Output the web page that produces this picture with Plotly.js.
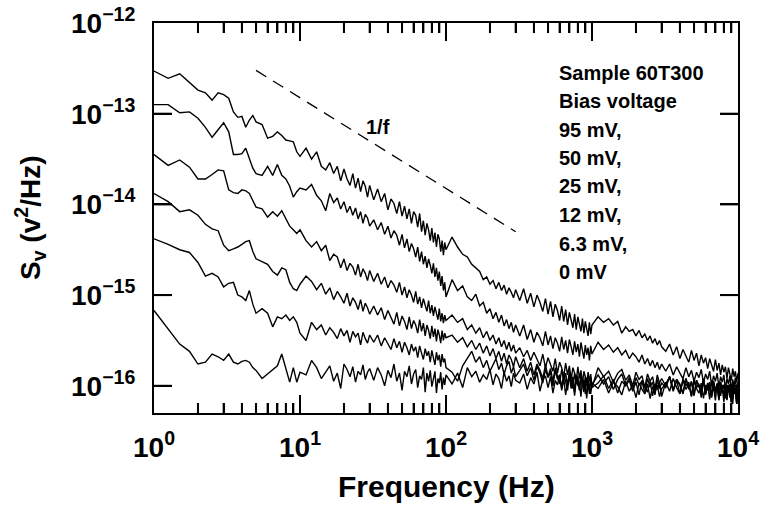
<!DOCTYPE html>
<html><head><meta charset="utf-8">
<script src="https://cdn.plot.ly/plotly-3.0.1.min.js"></script>
<style>html,body{margin:0;padding:0;background:#fff}#chart{width:762px;height:509px}</style>
</head><body><div id="chart"></div>
<script>
// Frequency bins (Hz), shared by all six spectra
const freqHz = [1,1.25,1.5,1.75,2,2.25,2.5,2.75,3,3.25,3.5,3.75,4,4.25,4.5,4.75,5,5.5,6,6.5,7,7.5,8,8.5,9,9.5,
10,11,12,13,14,15,16,17,18,19,20,21,22,23,24,25,26,27,28,29,30,
32,34,36,38,40,42,44,46,48,50,52,54,56,58,60,62,64,66,68,70,72,74,76,78,80,82,84,86,88,90,92,94,96,98,100,
110,120,130,140,150,160,170,180,190,200,210,220,230,240,250,260,270,280,290,300,
320,340,360,380,400,420,440,460,480,500,520,540,560,580,600,620,640,660,680,700,720,740,760,780,800,820,840,860,880,900,920,940,960,980,1000,
1100,1200,1300,1400,1500,1600,1700,1800,1900,2000,2100,2200,2300,2400,2500,2600,2700,2800,2900,3000,
3200,3400,3600,3800,4000,4200,4400,4600,4800,5000,5200,5400,5600,5800,6000,6200,6400,6600,6800,7000,7200,7400,7600,7800,8000,8200,8400,8600,8800,9000,9200,9400,9600,9800,10000];

// log10 of S_V (V^2/Hz)
const log95mV = [-12.53,-12.61,-12.56,-12.66,-12.74,-12.77,-12.85,-12.77,-12.79,-12.83,-12.98,-13.04,-13.03,-13.15,-13.07,-13.02,-13.09,-13.12,-13.27,-13.25,-13.20,-13.24,-13.29,-13.30,-13.31,-13.42,
-13.47,-13.38,-13.50,-13.42,-13.58,-13.62,-13.54,-13.66,-13.58,-13.74,-13.61,-13.72,-13.79,-13.66,-13.82,-13.71,-13.86,-13.74,-13.80,-13.92,-13.79,
-13.95,-13.83,-13.97,-13.88,-14.06,-13.94,-13.99,-14.10,-13.97,-14.13,-14.02,-14.16,-14.05,-14.21,-14.08,-14.12,-14.25,-14.10,-14.30,-14.18,-14.34,-14.21,-14.28,-14.40,-14.26,-14.42,-14.31,-14.47,-14.33,-14.38,-14.52,-14.40,-14.56,-14.42,-14.50,
-14.36,-14.47,-14.55,-14.58,-14.66,-14.70,-14.74,-14.83,-14.80,-14.88,-14.84,-14.93,-14.86,-14.95,-14.89,-14.99,-14.92,-14.97,-15.03,-14.94,
-15.06,-14.93,-15.09,-14.98,-15.13,-15.00,-15.08,-15.18,-15.04,-15.21,-15.07,-15.24,-15.10,-15.17,-15.28,-15.12,-15.29,-15.16,-15.33,-15.19,-15.27,-15.36,-15.21,-15.38,-15.24,-15.34,-15.40,-15.26,-15.42,-15.29,-15.37,-15.45,-15.30,-15.43,-15.33,
-15.24,-15.30,-15.26,-15.33,-15.29,-15.42,-15.35,-15.40,-15.38,-15.45,-15.39,-15.47,-15.43,-15.50,-15.45,-15.53,-15.48,-15.55,-15.50,-15.57,
-15.62,-15.54,-15.66,-15.57,-15.70,-15.60,-15.68,-15.74,-15.61,-15.72,-15.64,-15.78,-15.66,-15.75,-15.69,-15.81,-15.70,-15.77,-15.84,-15.71,-15.83,-15.75,-15.88,-15.77,-15.85,-15.79,-15.92,-15.80,-15.87,-15.94,-15.81,-15.90,-15.84,-15.96,-15.86];

const log50mV = [-12.90,-12.90,-12.99,-12.98,-13.05,-13.15,-13.26,-13.17,-13.10,-13.20,-13.45,-13.45,-13.44,-13.38,-13.50,-13.60,-13.66,-13.68,-13.58,-13.68,-13.56,-13.68,-13.72,-13.80,-13.92,-13.86,
-13.82,-13.84,-13.78,-13.90,-13.96,-14.07,-13.88,-13.98,-13.93,-14.05,-13.97,-14.09,-14.02,-14.12,-14.04,-14.16,-14.08,-14.21,-14.11,-14.15,-14.24,
-14.17,-14.28,-14.20,-14.33,-14.24,-14.37,-14.29,-14.34,-14.45,-14.33,-14.48,-14.38,-14.52,-14.43,-14.49,-14.58,-14.47,-14.63,-14.52,-14.66,-14.57,-14.70,-14.60,-14.67,-14.76,-14.65,-14.80,-14.70,-14.84,-14.74,-14.90,-14.79,-14.95,-14.86,-15.02,
-14.83,-14.95,-14.90,-15.02,-15.06,-14.99,-15.12,-15.08,-15.20,-15.15,-15.26,-15.19,-15.30,-15.22,-15.34,-15.27,-15.37,-15.30,-15.41,-15.33,
-15.45,-15.33,-15.49,-15.38,-15.52,-15.41,-15.47,-15.56,-15.40,-15.55,-15.45,-15.59,-15.47,-15.53,-15.62,-15.46,-15.60,-15.50,-15.64,-15.49,-15.57,-15.66,-15.51,-15.63,-15.54,-15.68,-15.52,-15.61,-15.70,-15.55,-15.66,-15.58,-15.72,-15.56,-15.65,
-15.52,-15.60,-15.55,-15.63,-15.58,-15.66,-15.61,-15.70,-15.64,-15.68,-15.74,-15.66,-15.76,-15.70,-15.78,-15.72,-15.80,-15.74,-15.82,-15.76,
-15.84,-15.76,-15.88,-15.79,-15.86,-15.92,-15.80,-15.90,-15.83,-15.95,-15.85,-15.91,-15.82,-15.97,-15.87,-15.93,-15.84,-16.00,-15.89,-15.95,-15.86,-16.02,-15.90,-15.96,-15.88,-16.04,-15.92,-15.98,-15.89,-16.06,-15.93,-16.00,-15.91,-16.08,-15.95];

const log25mV = [-13.45,-13.57,-13.51,-13.59,-13.72,-13.72,-13.67,-13.62,-13.63,-13.84,-13.87,-13.88,-13.84,-13.85,-13.88,-13.96,-14.03,-14.05,-14.14,-14.08,-14.13,-14.07,-14.16,-14.24,-14.28,-14.32,
-14.28,-14.40,-14.47,-14.41,-14.51,-14.45,-14.62,-14.55,-14.58,-14.70,-14.60,-14.73,-14.65,-14.69,-14.78,-14.66,-14.80,-14.71,-14.76,-14.84,-14.73,
-14.85,-14.76,-14.88,-14.80,-14.92,-14.84,-14.89,-14.97,-14.86,-15.00,-14.91,-15.03,-14.94,-15.00,-15.08,-14.96,-15.10,-15.02,-15.14,-15.04,-15.10,-15.18,-15.06,-15.20,-15.11,-15.23,-15.13,-15.19,-15.27,-15.15,-15.29,-15.20,-15.31,-15.22,-15.28,
-15.22,-15.30,-15.26,-15.38,-15.33,-15.42,-15.36,-15.47,-15.40,-15.50,-15.44,-15.54,-15.47,-15.57,-15.50,-15.60,-15.52,-15.62,-15.55,-15.64,
-15.58,-15.68,-15.61,-15.72,-15.63,-15.70,-15.78,-15.65,-15.80,-15.69,-15.76,-15.84,-15.70,-15.86,-15.74,-15.80,-15.90,-15.75,-15.88,-15.78,-15.93,-15.80,-15.86,-15.96,-15.79,-15.92,-15.83,-15.98,-15.84,-15.90,-16.00,-15.85,-15.95,-15.87,-16.02,
-15.80,-15.90,-15.84,-15.96,-15.86,-15.82,-15.94,-15.88,-16.00,-15.85,-15.93,-15.89,-16.02,-15.87,-15.95,-15.90,-16.04,-15.88,-15.97,-15.92,
-16.00,-15.90,-16.05,-15.93,-15.98,-16.08,-15.92,-16.03,-15.95,-16.10,-15.94,-16.01,-16.06,-15.92,-16.09,-15.97,-16.03,-16.12,-15.95,-16.05,-15.99,-16.14,-15.96,-16.04,-16.10,-15.98,-16.15,-16.00,-16.06,-16.18,-15.97,-16.08,-16.02,-16.20,-16.05];

const log12mV = [-13.88,-13.97,-14.08,-14.06,-14.12,-14.22,-14.27,-14.29,-14.45,-14.51,-14.49,-14.47,-14.44,-14.41,-14.40,-14.52,-14.60,-14.63,-14.66,-14.74,-14.78,-14.70,-14.72,-14.86,-14.93,-14.95,
-14.88,-14.79,-14.85,-14.94,-14.87,-14.99,-14.92,-15.05,-14.96,-15.02,-15.09,-14.98,-15.12,-15.03,-15.08,-15.16,-15.05,-15.18,-15.09,-15.14,-15.21,
-15.12,-15.22,-15.14,-15.27,-15.17,-15.24,-15.32,-15.19,-15.34,-15.23,-15.29,-15.38,-15.24,-15.37,-15.28,-15.33,-15.42,-15.27,-15.40,-15.31,-15.45,-15.33,-15.39,-15.48,-15.34,-15.46,-15.37,-15.51,-15.38,-15.44,-15.53,-15.39,-15.50,-15.42,-15.47,
-15.44,-15.52,-15.47,-15.57,-15.50,-15.60,-15.53,-15.64,-15.56,-15.67,-15.59,-15.70,-15.62,-15.73,-15.64,-15.76,-15.66,-15.71,-15.79,-15.68,
-15.80,-15.70,-15.84,-15.74,-15.88,-15.76,-15.83,-15.92,-15.77,-15.90,-15.81,-15.95,-15.80,-15.88,-15.98,-15.82,-15.94,-15.86,-16.00,-15.84,-15.92,-16.03,-15.86,-15.97,-15.89,-16.05,-15.88,-15.96,-16.07,-15.90,-16.00,-15.92,-16.09,-15.91,-15.99,
-15.88,-15.98,-15.90,-16.04,-15.93,-15.87,-16.00,-15.94,-16.06,-15.91,-15.99,-15.95,-16.08,-15.92,-16.01,-15.96,-16.10,-15.93,-16.03,-15.97,
-16.02,-15.90,-16.06,-15.93,-16.00,-16.09,-15.92,-16.04,-15.96,-16.11,-15.94,-16.01,-16.07,-15.93,-16.10,-15.97,-16.03,-16.13,-15.95,-16.06,-15.99,-16.15,-15.96,-16.04,-16.10,-15.98,-16.16,-16.00,-16.06,-16.18,-15.97,-16.08,-16.02,-16.20,-16.04];

const log6p3mV = [-14.38,-14.44,-14.50,-14.53,-14.64,-14.79,-14.76,-14.80,-14.91,-14.87,-14.86,-15.00,-15.02,-15.06,-14.95,-15.10,-15.20,-15.15,-15.20,-15.35,-15.24,-15.26,-15.22,-15.28,-15.24,-15.30,
-15.42,-15.50,-15.30,-15.38,-15.33,-15.44,-15.36,-15.41,-15.48,-15.37,-15.45,-15.39,-15.52,-15.40,-15.46,-15.42,-15.55,-15.41,-15.48,-15.53,-15.44,
-15.52,-15.44,-15.56,-15.47,-15.53,-15.60,-15.48,-15.58,-15.51,-15.63,-15.52,-15.58,-15.66,-15.54,-15.62,-15.57,-15.69,-15.56,-15.64,-15.71,-15.59,-15.67,-15.62,-15.74,-15.61,-15.69,-15.77,-15.63,-15.72,-15.66,-15.79,-15.65,-15.74,-15.70,-15.80,
-15.85,-15.95,-15.78,-15.70,-15.62,-15.74,-15.68,-15.80,-15.72,-15.84,-15.76,-15.70,-15.82,-15.75,-15.87,-15.78,-15.73,-15.86,-15.79,-15.90,
-15.83,-15.76,-15.89,-15.80,-15.94,-15.78,-15.86,-15.97,-15.82,-15.91,-15.85,-16.00,-15.83,-15.93,-15.88,-16.03,-15.86,-15.95,-16.05,-15.87,-15.98,-15.90,-16.07,-15.88,-15.96,-16.04,-15.89,-16.01,-15.93,-16.09,-15.91,-15.99,-16.06,-15.92,-16.02,
-15.97,-15.89,-16.03,-15.93,-16.08,-15.95,-16.00,-15.91,-16.05,-15.96,-16.10,-15.94,-16.02,-16.07,-15.95,-16.11,-15.98,-16.04,-15.97,-16.12,
-15.96,-16.06,-15.92,-16.02,-16.09,-15.94,-16.04,-15.98,-16.12,-15.95,-16.03,-16.08,-15.97,-16.14,-15.99,-16.05,-15.96,-16.10,-16.01,-16.16,-15.98,-16.06,-16.11,-16.00,-16.18,-16.02,-16.07,-15.99,-16.13,-16.04,-16.20,-16.01,-16.09,-16.15,-16.04];

const log0mV = [-15.17,-15.37,-15.54,-15.62,-15.76,-15.74,-15.65,-15.68,-15.72,-15.65,-15.74,-15.76,-15.73,-15.72,-15.74,-15.80,-15.83,-15.92,-15.87,-15.83,-15.78,-15.65,-15.80,-15.96,-15.80,-15.96,
-15.85,-15.88,-15.72,-15.80,-15.92,-15.84,-15.78,-15.95,-15.86,-16.03,-15.76,-15.82,-15.90,-15.79,-15.96,-15.84,-15.88,-15.77,-15.93,-15.85,-15.81,
-15.94,-15.80,-15.88,-16.00,-15.83,-15.91,-15.76,-15.95,-15.86,-16.05,-15.84,-15.90,-15.78,-15.98,-15.87,-15.82,-16.02,-15.89,-15.93,-15.80,-16.07,-15.86,-15.95,-15.83,-16.01,-15.90,-15.84,-16.08,-15.92,-15.97,-15.85,-16.04,-15.91,-15.99,-15.88,
-15.98,-15.86,-16.02,-15.80,-15.90,-15.84,-15.96,-15.88,-15.93,-15.82,-15.99,-15.87,-15.92,-16.03,-15.85,-15.95,-15.89,-16.01,-15.86,-15.94,
-15.97,-15.87,-16.04,-15.91,-15.98,-15.85,-16.06,-15.93,-15.89,-16.02,-15.90,-16.08,-15.94,-15.99,-15.88,-16.05,-15.92,-16.10,-15.96,-15.91,-16.03,-15.95,-16.11,-15.93,-16.00,-15.97,-16.12,-15.94,-16.04,-15.98,-16.14,-15.96,-16.02,-16.09,-15.97,
-16.03,-15.93,-16.08,-15.96,-16.01,-16.10,-15.95,-16.06,-15.99,-16.13,-15.97,-16.04,-16.09,-15.98,-16.14,-16.01,-16.07,-15.99,-16.12,-16.03,
-15.98,-15.90,-16.04,-15.94,-16.09,-15.92,-16.00,-15.96,-16.11,-15.93,-16.02,-15.98,-16.13,-15.95,-16.05,-15.99,-16.15,-15.94,-16.03,-16.08,-15.97,-16.16,-16.00,-16.05,-15.99,-16.14,-16.01,-16.07,-15.98,-16.18,-16.02,-16.09,-16.04,-16.20,-16.06];

const biasNames = ['95 mV','50 mV','25 mV','12 mV','6.3 mV','0 mV'];

// 1/f guide line end points
const guideFreq = [5, 300];
const guideSv = [3e-13, 5e-15];

// Axis ticks
const xTickVals = [1, 10, 100, 1000, 10000];
const xTickText = ['10<sup>0</sup>','10<sup>1</sup>','10<sup>2</sup>','10<sup>3</sup>','10<sup>4</sup>'];
const xMinorVals = [2,3,4,5,6,7,8,9,20,30,40,50,60,70,80,90,200,300,400,500,600,700,800,900,2000,3000,4000,5000,6000,7000,8000,9000];
const yTickVals = [1e-16, 1e-15, 1e-14, 1e-13, 1e-12];
const yTickText = ['10<sup>−16</sup>','10<sup>−15</sup>','10<sup>−14</sup>','10<sup>−13</sup>','10<sup>−12</sup>'];

const xTitle = 'Frequency (Hz)';
const yTitle = 'S<sub>v</sub> (v<sup>2</sup>/Hz)';
const noteLines = ['Sample 60T300','Bias voltage','95 mV,','50 mV,','25 mV,','12 mV,','6.3 mV,','0 mV'];

const FONT = 'Liberation Sans, Arial, Helvetica, sans-serif';
const series = [log95mV, log50mV, log25mV, log12mV, log6p3mV, log0mV];
const traces = series.map((s, i) => ({
  x: freqHz, y: s.map(v => Math.pow(10, v)), type: 'scatter', mode: 'lines',
  name: biasNames[i], line: {color: '#000', width: 1.4}
}));
traces.push({x: guideFreq, y: guideSv, type: 'scatter', mode: 'lines', name: '1/f',
  line: {color: '#000', width: 1.3, dash: '12px,8px'}});

const plotLeft = 154, plotRight = 738, plotTop = 23, plotBottom = 413;
const plotW = plotRight - plotLeft, plotH = plotBottom - plotTop;
const boldFont = (size) => ({family: FONT, size: size, weight: 'bold', color: '#000'});
const annotations = noteLines.map((t, i) => ({
  text: t, xref: 'paper', yref: 'paper', x: (557 - plotLeft) / plotW, y: (plotBottom - (72.5 + i * 28.5)) / plotH,
  xanchor: 'left', yanchor: 'middle', showarrow: false, font: boldFont(20)
}));
annotations.push({text: '1/f', xref: 'paper', yref: 'paper', x: (378 - plotLeft) / plotW, y: (plotBottom - 127) / plotH,
  xanchor: 'center', yanchor: 'middle', showarrow: false, font: boldFont(20)});
annotations.push({text: xTitle, xref: 'paper', yref: 'paper', x: 0.5, y: (plotBottom - 486) / plotH,
  xanchor: 'center', yanchor: 'middle', showarrow: false, font: boldFont(30)});
annotations.push({text: yTitle, xref: 'paper', yref: 'paper', x: (30 - plotLeft) / plotW, y: 0.5, textangle: -90,
  xanchor: 'center', yanchor: 'middle', showarrow: false, font: boldFont(28)});

// Inside tick marks: drawn by the axes and, as a fallback, also as axis-anchored shapes at the same spots
const MAJOR = 18, MINOR = 10;
const tickStyle = {color: '#000', width: 2};
const shapes = [];
const inRange = (lv, lo, hi) => lv > lo + 1e-9 && lv < hi - 1e-9;
function xTick(v, len) {
  shapes.push({type: 'line', layer: 'above', xref: 'x', x0: v, x1: v, yref: 'paper', ysizemode: 'pixel', yanchor: 0, y0: 0, y1: len, line: tickStyle});
  shapes.push({type: 'line', layer: 'above', xref: 'x', x0: v, x1: v, yref: 'paper', ysizemode: 'pixel', yanchor: 1, y0: 0, y1: -len, line: tickStyle});
}
function yTick(v, len) {
  shapes.push({type: 'line', layer: 'above', yref: 'y', y0: v, y1: v, xref: 'paper', xsizemode: 'pixel', xanchor: 0, x0: 0, x1: len, line: tickStyle});
  shapes.push({type: 'line', layer: 'above', yref: 'y', y0: v, y1: v, xref: 'paper', xsizemode: 'pixel', xanchor: 1, x0: 0, x1: -len, line: tickStyle});
}
xTickVals.filter(v => inRange(Math.log10(v), 0, 4)).forEach(v => xTick(v, MAJOR));
xMinorVals.forEach(v => xTick(v, MINOR));
yTickVals.filter(v => inRange(Math.log10(v), -16.3, -12)).forEach(v => yTick(v, MAJOR));

const axisCommon = {
  type: 'log', tickmode: 'array', ticks: 'inside', ticklen: MAJOR, tickwidth: 2, tickcolor: '#000',
  showline: true, linewidth: 2, linecolor: '#000', mirror: 'ticks', showgrid: false, zeroline: false,
  tickfont: boldFont(28)
};

const layout = {
  width: 762, height: 509,
  margin: {l: plotLeft, r: 762 - plotRight, t: plotTop, b: 509 - plotBottom},
  showlegend: false,
  xaxis: Object.assign({}, axisCommon, {range: [0, 4], tickvals: xTickVals, ticktext: xTickText, ticklabelstandoff: 8,
    minor: {tickmode: 'array', tickvals: xMinorVals, ticks: 'inside', ticklen: MINOR, tickwidth: 2, tickcolor: '#000', showgrid: false}}),
  yaxis: Object.assign({}, axisCommon, {range: [-16.3, -12], tickvals: yTickVals, ticktext: yTickText, ticklabelstandoff: 11}),
  shapes: shapes,
  annotations: annotations
};

Plotly.newPlot('chart', traces, layout, {staticPlot: true, displayModeBar: false});
</script>
</body></html>
